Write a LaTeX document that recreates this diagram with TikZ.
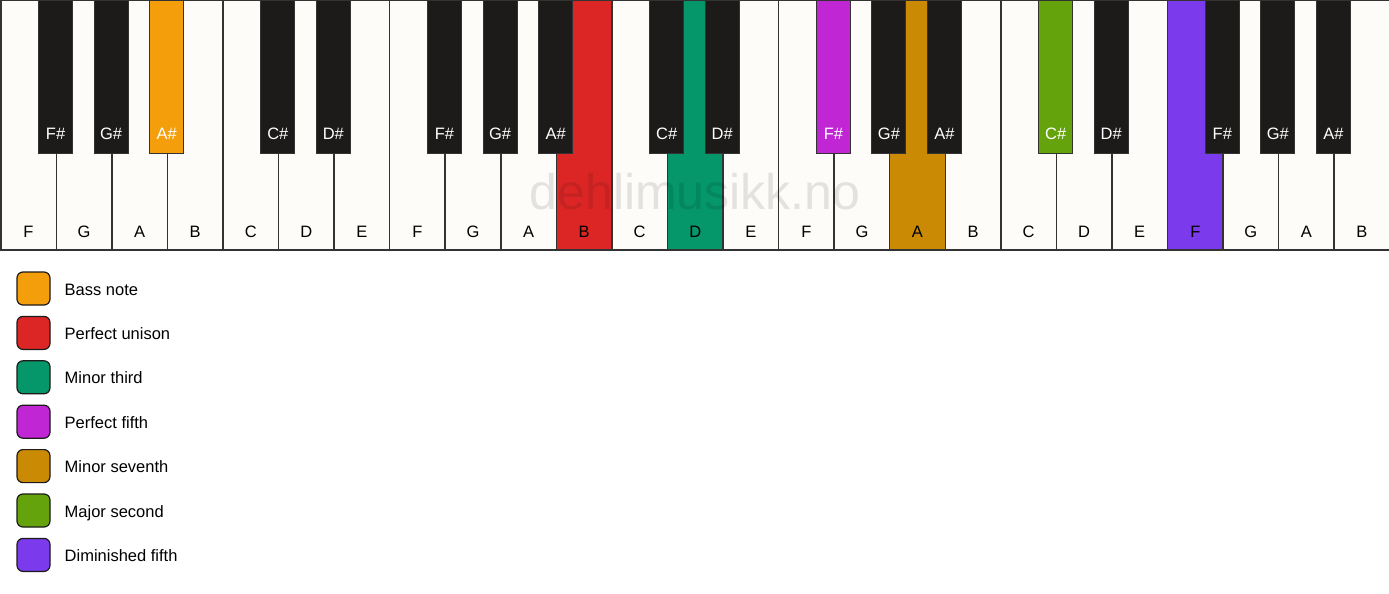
\documentclass[tikz,border=0pt]{standalone}
\usepackage{fontspec}
\setmainfont{Liberation Sans}
\definecolor{ivory}{HTML}{FDFCF8}
\definecolor{keyline}{HTML}{333333}
\definecolor{ebony}{HTML}{1C1B19}
\definecolor{cAmber}{HTML}{F59E0B}
\definecolor{cRed}{HTML}{DC2626}
\definecolor{cEmerald}{HTML}{059669}
\definecolor{cFuchsia}{HTML}{C026D3}
\definecolor{cGold}{HTML}{CA8A04}
\definecolor{cLime}{HTML}{65A30D}
\definecolor{cViolet}{HTML}{7C3AED}
\begin{document}
\begin{tikzpicture}[x=1pt,y=-1pt,
  wkey/.style={draw=keyline, line width=1.5pt, minimum width=55.56pt, minimum height=249pt, inner sep=0pt, anchor=north west},
  bkey/.style={draw=keyline, line width=1pt, minimum width=34pt, minimum height=153pt, inner sep=0pt, anchor=north},
  wlab/.style={font=\fontsize{16.5}{16.5}\selectfont, text=black, inner sep=0pt},
  blab/.style={font=\fontsize{16.5}{16.5}\selectfont, text=white, inner sep=0pt},
  legbox/.style={draw=ebony, line width=1.2pt, rounded corners=6pt, minimum width=33pt, minimum height=33pt, inner sep=0pt},
  legtext/.style={font=\fontsize{16.5}{16.5}\selectfont, anchor=base west, inner sep=0pt}]
\useasboundingbox (0,0) rectangle (1389,594);
\fill[white] (0,0) rectangle (1389,594);
% white keys
\foreach \i/\n/\c in {0/F/ivory,1/G/ivory,2/A/ivory,3/B/ivory,4/C/ivory,5/D/ivory,6/E/ivory,
  7/F/ivory,8/G/ivory,9/A/ivory,10/B/cRed,11/C/ivory,12/D/cEmerald,13/E/ivory,
  14/F/ivory,15/G/ivory,16/A/cGold,17/B/ivory,18/C/ivory,19/D/ivory,20/E/ivory,
  21/F/cViolet,22/G/ivory,23/A/ivory,24/B/ivory}{
  \node[wkey, fill=\c] (w\i) at (\i*55.56, 0) {};
  \node[wlab] (wl\i) at ([yshift=19pt]w\i.south) {\n};
}
% watermark
\node[text=black, opacity=0.1, font=\fontsize{50}{50}\selectfont, inner sep=0pt] (wm) at (695,192) {dehlimusikk.no};
% black keys
\foreach \j/\n/\c in {0/F\#/ebony,1/G\#/ebony,2/A\#/cAmber,4/C\#/ebony,5/D\#/ebony,
  7/F\#/ebony,8/G\#/ebony,9/A\#/ebony,11/C\#/ebony,12/D\#/ebony,
  14/F\#/cFuchsia,15/G\#/ebony,16/A\#/ebony,18/C\#/cLime,19/D\#/ebony,
  21/F\#/ebony,22/G\#/ebony,23/A\#/ebony}{
  \node[bkey, fill=\c] (b\j) at (\j*55.56+55.56, 0) {};
  \node[blab] (bl\j) at ([yshift=20pt]b\j.south) {\n};
}
% legend
\foreach \k/\c/\t in {0/cAmber/Bass note,1/cRed/Perfect unison,2/cEmerald/Minor third,
  3/cFuchsia/Perfect fifth,4/cGold/Minor seventh,5/cLime/Major second,6/cViolet/Diminished fifth}{
  \node[legbox, fill=\c] (lb\k) at (33.5, 288.5+\k*44.4) {};
  \node[legtext] (lt\k) at (64.5, 295+\k*44.4) {\t};
}
\end{tikzpicture}
\end{document}
